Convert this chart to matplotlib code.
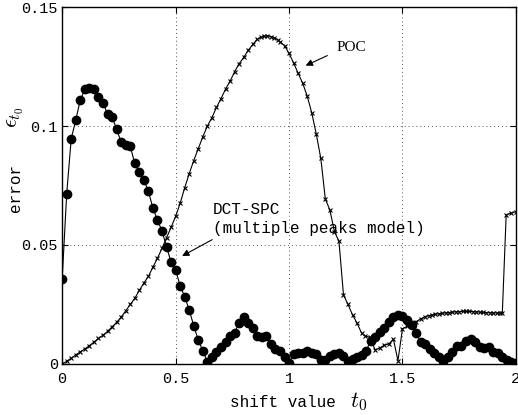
import numpy as np
import matplotlib
matplotlib.use("Agg")
import matplotlib.pyplot as plt

plt.rcParams['mathtext.fontset'] = 'cm'
mono = 'Liberation Mono'

# DCT-SPC (multiple peaks model), sampled every 0.02
dct_x = np.arange(0, 101) * 0.02
dct_y = [0.0355, 0.0716, 0.0947, 0.1025, 0.1110, 0.1154, 0.1161, 0.1157, 0.1120, 0.1098,
         0.1050, 0.1039, 0.0986, 0.0933, 0.0920, 0.0915, 0.0843, 0.0805, 0.0773, 0.0726,
         0.0655, 0.0605, 0.0559, 0.0493, 0.0428, 0.0395, 0.0329, 0.0283, 0.0227, 0.0160,
         0.0101, 0.0055, 0.0010, 0.0031, 0.0052, 0.0073, 0.0094, 0.0118, 0.0132, 0.0174,
         0.0196, 0.0174, 0.0150, 0.0118, 0.0115, 0.0119, 0.0084, 0.0062, 0.0056, 0.0031,
         0.0003, 0.0042, 0.0046, 0.0047, 0.0055, 0.0047, 0.0042, 0.0017, 0.0015, 0.0034,
         0.0042, 0.0045, 0.0034, 0.0014, 0.0020, 0.0028, 0.0036, 0.0056, 0.0097, 0.0115,
         0.0133, 0.0150, 0.0178, 0.0196, 0.0206, 0.0200, 0.0185, 0.0164, 0.0129, 0.0094,
         0.0084, 0.0062, 0.0045, 0.0030, 0.0012, 0.0030, 0.0052, 0.0076, 0.0077, 0.0097,
         0.0106, 0.0094, 0.0073, 0.0066, 0.0073, 0.0052, 0.0044, 0.0030, 0.0015, 0.0008,
         0.0003]

# POC
poc_x = [0.00, 0.02, 0.04, 0.06, 0.08, 0.10, 0.12, 0.14, 0.16, 0.18,
         0.20, 0.22, 0.24, 0.26, 0.28, 0.30, 0.32, 0.34, 0.36, 0.38,
         0.40, 0.42, 0.44, 0.46, 0.48, 0.50, 0.52, 0.54, 0.56, 0.58,
         0.60, 0.62, 0.64, 0.66, 0.68, 0.70, 0.72, 0.74, 0.76, 0.78,
         0.80, 0.82, 0.84, 0.86, 0.875, 0.89, 0.905, 0.92, 0.935, 0.95,
         0.96, 0.98, 1.00, 1.02, 1.04, 1.06, 1.08, 1.10, 1.12, 1.14,
         1.16, 1.18, 1.20, 1.22, 1.24, 1.26, 1.28, 1.30, 1.32, 1.335,
         1.355, 1.38, 1.40, 1.42, 1.44, 1.46, 1.48, 1.50, 1.52, 1.54,
         1.56, 1.58, 1.60, 1.615, 1.63, 1.645, 1.66, 1.675, 1.69, 1.705,
         1.72, 1.735, 1.75, 1.765, 1.78, 1.795, 1.81, 1.825, 1.84, 1.855,
         1.87, 1.885, 1.90, 1.915, 1.93, 1.94, 1.957, 1.977, 2.00]
poc_y = [0.0000, 0.0011, 0.0024, 0.0038, 0.0051, 0.0063, 0.0077, 0.0092, 0.0107, 0.0121,
         0.0137, 0.0156, 0.0175, 0.0197, 0.0223, 0.0250, 0.0276, 0.0309, 0.0340, 0.0368,
         0.0407, 0.0444, 0.0486, 0.0530, 0.0574, 0.0620, 0.0675, 0.0740, 0.0800, 0.0855,
         0.0905, 0.0955, 0.1000, 0.1035, 0.1078, 0.1115, 0.1155, 0.1188, 0.1228, 0.1262,
         0.1288, 0.1318, 0.1343, 0.1365, 0.1373, 0.1378, 0.1379, 0.1376, 0.1371, 0.1363,
         0.1354, 0.1338, 0.1305, 0.1265, 0.1222, 0.1180, 0.1126, 0.1056, 0.0966, 0.0864,
         0.0693, 0.0647, 0.0556, 0.0516, 0.0290, 0.0250, 0.0206, 0.0171, 0.0129, 0.0118,
         0.0112, 0.0059, 0.0067, 0.0079, 0.0084, 0.0104, 0.0014, 0.0148, 0.0158, 0.0168,
         0.0178, 0.0189, 0.0199, 0.0203, 0.0206, 0.0209, 0.0211, 0.0213, 0.0215, 0.0216,
         0.0218, 0.0219, 0.0220, 0.0221, 0.0221, 0.0221, 0.0220, 0.0219, 0.0218, 0.0217,
         0.0216, 0.0215, 0.0215, 0.0214, 0.0214, 0.0214, 0.0626, 0.0634, 0.0640]

fig = plt.figure(figsize=(5.18, 4.15), dpi=100)
ax = fig.add_axes([0.120, 0.123, 0.876, 0.860])

ax.plot(poc_x, poc_y, color='k', lw=0.8, marker='x', ms=3.5, mew=0.8)
ax.plot(dct_x, dct_y, color='k', lw=0.8, marker='o', ms=6)

ax.set_xlim(0, 2)
ax.set_ylim(0, 0.15)
ax.set_xticks([0, 0.5, 1, 1.5, 2])
ax.set_xticklabels(['0', '0.5', '1', '1.5', '2'])
ax.set_yticks([0, 0.05, 0.1, 0.15])
ax.set_yticklabels(['0', '0.05', '0.1', '0.15'])
ax.tick_params(direction='in', top=True, right=True, length=4, labelsize=11, pad=3)
ax.tick_params(axis='x', pad=6)
for lab in ax.get_xticklabels() + ax.get_yticklabels():
    lab.set_family(mono)
ax.grid(True, linestyle=(0, (1, 3)), color='#555555', lw=0.7)
for s in ax.spines.values():
    s.set_linewidth(1.0)

# axis labels: courier words + larger math symbols
fig.text(0.546, 0.030, 'shift value', family=mono, fontsize=11.5, ha='center', va='center')
fig.text(0.693, 0.032, '$t_0$', fontsize=16, ha='center', va='center')
fig.text(0.030, 0.547, 'error', family=mono, fontsize=11.5, ha='center', va='center', rotation=90)
fig.text(0.030, 0.718, '$\\epsilon_{t_0}$', fontsize=16, ha='center', va='center', rotation=90)

ax.annotate('', xy=(1.062, 0.1249), xytext=(1.18, 0.1301),
            arrowprops=dict(arrowstyle='-|>', color='k', lw=0.8, mutation_scale=10))
ax.text(1.21, 0.1328, 'POC', family='Liberation Serif', fontsize=11, va='center', ha='left')

ax.annotate('', xy=(0.518, 0.0448), xytext=(0.672, 0.0528),
            arrowprops=dict(arrowstyle='-|>', color='k', lw=0.8, mutation_scale=10))
ax.text(0.665, 0.0651, 'DCT-SPC', family=mono, fontsize=11.5, va='center', ha='left')
ax.text(0.665, 0.0571, '(multiple peaks model)', family=mono, fontsize=11.5, va='center', ha='left')

fig.savefig('out.png', dpi=100)
